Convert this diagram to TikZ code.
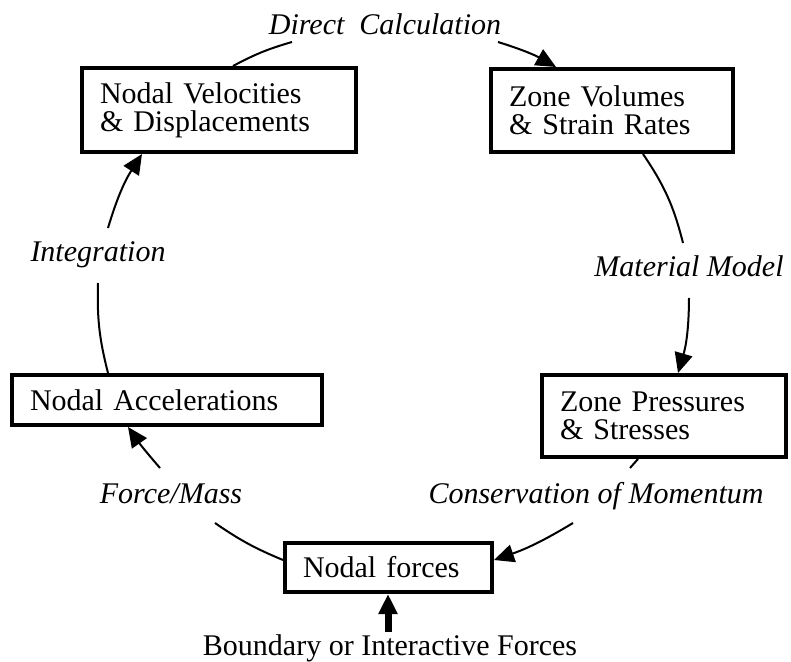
\documentclass[tikz,border=0pt]{standalone}
\usepackage{fontspec}
\setmainfont{Liberation Serif}
\usetikzlibrary{arrows.meta,calc}
\tikzset{
  boxnode/.style={draw, line width=2pt, inner xsep=9pt, inner ysep=0pt, align=left,
    font=\fontsize{15}{14}\selectfont},
  lbl/.style={inner sep=1pt, anchor=base, font=\fontsize{15}{14}\selectfont\itshape},
  conn/.style={line width=1pt},
  arr/.style={line width=1pt, -{Triangle[length=10pt,width=9pt]}},
  bigarr/.style={line width=3.5pt, -{Triangle[length=10pt,width=9pt]}}
}
\begin{document}
\begin{tikzpicture}[x=0.5pt,y=-0.5pt]
\useasboundingbox (0,0) rectangle (791,662);
% boxes
\node[boxnode, minimum width=137pt, minimum height=42pt, text width=119pt] (nv) at (219,110) {Nodal Velocities\\\& Displacements};
\node[boxnode, minimum width=121pt, minimum height=41.5pt, text width=103pt] (zv) at (612,110.5) {Zone Volumes\\\& Strain Rates};
\node[boxnode, minimum width=122pt, minimum height=41pt, text width=104pt] (zp) at (664,416) {Zone Pressures\\\& Stresses};
\node[boxnode, minimum width=155pt, minimum height=25pt, text width=137pt] (na) at (167,400) {Nodal Accelerations};
\node[boxnode, minimum width=103.5pt, minimum height=24.5pt, text width=85.5pt] (nf) at (388.5,567.5) {Nodal forces};
% labels
\node[lbl] (dc) at (385,35) {Direct\ \ Calculation};
\node[lbl] (mm) at (689,277) {Material Model};
\node[lbl] (cm) at (596,503) {Conservation of Momentum};
\node[lbl] (fm) at (171,503) {Force/Mass};
\node[lbl] (ig) at (98,262) {Integration};
\node[inner sep=1pt, anchor=base, font=\fontsize{15}{14}\selectfont] (bf) at (390,655) {Boundary or Interactive Forces};
% label-side ends
\coordinate (dcL) at (292,42);
\coordinate (dcR) at (498,42);
\coordinate (mmT) at (683,243);
\coordinate (mmB) at (689,298);
\coordinate (cmT) at (630,468);
\coordinate (cmB) at (573,523);
\coordinate (fmB) at (215,523);
\coordinate (fmT) at (160,468);
\coordinate (igB) at (98,283);
\coordinate (igT) at (108,228);
\coordinate (bfT) at (388,632);
% connectors
\draw[conn] ($(nv.north)+(14,0)$) to[bend left=6] (dcL);
\draw[arr] (dcR) to[bend left=6] ($(zv.north)+(-56,0)$);
\draw[conn] ($(zv.south)+(31,0)$) to[bend left=10] (mmT);
\draw[arr] (mmB) to[bend left=8] ($(zp.north)+(14,0)$);
\draw[conn] ($(zp.south)+(-26,0)$) -- (cmT);
\draw[arr] (cmB) to[bend left=6] ($(nf.east)+(0,-7.5)$);
\draw[conn] ($(nf.west)+(0,-7.5)$) to[bend left=6] (fmB);
\draw[arr] (fmT) to[bend left=3] ($(na.south)+(-39,0)$);
\draw[conn] ($(na.north)+(-59,0)$) to[bend left=8] (igB);
\draw[arr] (igT) to[bend left=8] ($(nv.south)+(-77,0)$);
\draw[bigarr] (bfT) -- (bfT |- nf.south);
\end{tikzpicture}
\end{document}
